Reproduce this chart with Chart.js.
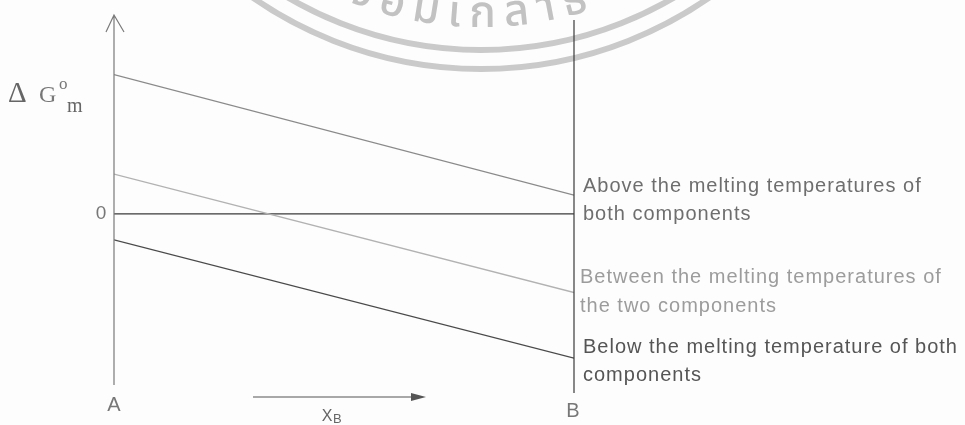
<!DOCTYPE html>
<html>
<head>
<meta charset="utf-8">
<script src="https://cdn.jsdelivr.net/npm/chart.js@4.4.1/dist/chart.umd.min.js"></script>
<style>
  html, body { margin: 0; padding: 0; background: #fff; }
  #wrap { width: 965px; height: 425px; }
</style>
</head>
<body>
<div id="wrap"><canvas id="myChart" width="965" height="425"></canvas></div>
<script>
// Mole fraction of B at the two ends of the diagram (pure A, pure B)
var xB = [0, 1];

// Standard Gibbs energy of mixing, arbitrary units, at A and at B
var aboveMelting = [14, 1.9];
var zeroLine = [0, 0];
var betweenMelting = [4, -7.9];
var belowMelting = [-2.6, -14.5];

// Captions written beside each line on the B side
var aboveText = ['Above the melting temperatures of', 'both components'];
var betweenText = ['Between the melting temperatures of', 'the two components'];
var belowText = ['Below the melting temperature of both', 'components'];

var endLabels = ['A', 'B'];
var stampText = 'จอมเกล้าธ';

function toPoints(values) {
  return xB.map(function (x, i) { return { x: x, y: values[i] }; });
}

function label(ctx, text, x, y, font, color, align, baseline, spacing) {
  ctx.save();
  ctx.font = font;
  ctx.fillStyle = color;
  ctx.textAlign = align || 'left';
  ctx.textBaseline = baseline || 'middle';
  ctx.letterSpacing = spacing || '0px';
  ctx.fillText(text, x, y);
  ctx.restore();
}

// text running along the bottom of a circle, tops facing the centre
function arcText(ctx, text, cx, cy, r, midX) {
  var seg = new Intl.Segmenter('th', { granularity: 'grapheme' });
  var parts = Array.from(seg.segment(text), function (s) { return s.segment; });
  var widths = parts.map(function (p) { return ctx.measureText(p).width + 9; });
  var total = widths.reduce(function (a, b) { return a + b; }, 0);
  var mid = Math.acos((midX - cx) / r);
  var acc = 0;
  parts.forEach(function (p, i) {
    var a = mid + (total / 2 - acc - widths[i] / 2) / r;
    ctx.save();
    ctx.translate(cx + r * Math.cos(a), cy + r * Math.sin(a));
    ctx.rotate(a - Math.PI / 2);
    ctx.fillText(p, 0, 0);
    ctx.restore();
    acc += widths[i];
  });
}

var diagram = {
  id: 'diagram',
  beforeDraw: function (chart) {
    var ctx = chart.ctx;
    ctx.save();
    ctx.fillStyle = '#fdfdfd';
    ctx.fillRect(0, 0, chart.width, chart.height);
    ctx.restore();
  },
  beforeDatasetsDraw: function (chart) {
    // faint stamp in the background
    var ctx = chart.ctx;
    ctx.save();
    ctx.strokeStyle = '#cacaca';
    ctx.lineWidth = 6;
    [400, 381].forEach(function (r) {
      ctx.beginPath();
      ctx.arc(481, -331, r, 0, Math.PI);
      ctx.stroke();
    });
    ctx.fillStyle = '#c2c2c2';
    ctx.font = '500 44px "Noto Sans Thai", "Noto Sans", sans-serif';
    ctx.textAlign = 'center';
    ctx.textBaseline = 'alphabetic';
    arcText(ctx, stampText, 481, -331, 358, 467);
    ctx.restore();
  },
  afterDatasetsDraw: function (chart) {
    var ctx = chart.ctx;
    var area = chart.chartArea;
    var xs = chart.scales.x, ys = chart.scales.y;
    var xA = xs.getPixelForValue(xB[0]);
    var xBpx = xs.getPixelForValue(xB[1]);

    ctx.save();
    // energy axis with open arrow head
    ctx.strokeStyle = '#7a7a7a';
    ctx.lineWidth = 1.2;
    ctx.beginPath();
    ctx.moveTo(xA, area.top);
    ctx.lineTo(xA, area.bottom - 8);
    ctx.moveTo(xA - 8, area.top + 17);
    ctx.lineTo(xA, area.top);
    ctx.lineTo(xA + 10, area.top + 17);
    ctx.stroke();

    // pure B side
    ctx.strokeStyle = '#3a3a3a';
    ctx.beginPath();
    ctx.moveTo(xBpx, area.top + 5);
    ctx.lineTo(xBpx, area.bottom);
    ctx.stroke();

    // composition arrow
    ctx.strokeStyle = '#555';
    ctx.fillStyle = '#555';
    ctx.beginPath();
    ctx.moveTo(253, area.bottom + 4);
    ctx.lineTo(415, area.bottom + 4);
    ctx.stroke();
    ctx.beginPath();
    ctx.moveTo(411, area.bottom);
    ctx.lineTo(426, area.bottom + 4);
    ctx.lineTo(411, area.bottom + 8);
    ctx.closePath();
    ctx.fill();
    ctx.restore();

    label(ctx, endLabels[0], xA, 405, '20px "Liberation Sans"', '#777', 'center');
    label(ctx, endLabels[1], xBpx - 1, 411, '20px "Liberation Sans"', '#777', 'center');
    label(ctx, '0', xA - 13, ys.getPixelForValue(0), '19px "Liberation Sans"', '#777', 'center');
    label(ctx, 'X', 327, 421, '16px "Liberation Sans"', '#666', 'center', 'alphabetic');
    label(ctx, 'B', 333, 423, '13px "Liberation Sans"', '#666', 'left', 'alphabetic');

    // ΔG°m
    label(ctx, 'Δ', 8, 102, '29px "Liberation Serif"', '#666', 'left', 'alphabetic');
    label(ctx, 'G', 39, 102, '24px "Liberation Serif"', '#777', 'left', 'alphabetic');
    label(ctx, 'o', 59, 89, '17px "Liberation Serif"', '#777', 'left', 'alphabetic');
    label(ctx, 'm', 67, 112, '20px "Liberation Serif"', '#666', 'left', 'alphabetic');

    var tx = xBpx + 9;
    var font = '20px "Liberation Sans"';
    var sp = '1px';
    var yAbove = ys.getPixelForValue(aboveMelting[1]);
    var yBetween = ys.getPixelForValue(betweenMelting[1]);
    var yBelow = ys.getPixelForValue(belowMelting[1]);
    label(ctx, aboveText[0], tx, yAbove - 9, font, '#6e6e6e', 'left', 'middle', sp);
    label(ctx, aboveText[1], tx, yAbove + 19, font, '#6e6e6e', 'left', 'middle', sp);
    label(ctx, betweenText[0], tx - 3, yBetween - 15, font, '#9c9c9c', 'left', 'middle', sp);
    label(ctx, betweenText[1], tx - 3, yBetween + 14, font, '#9c9c9c', 'left', 'middle', sp);
    label(ctx, belowText[0], tx, yBelow - 11, font, '#555', 'left', 'middle', sp);
    label(ctx, belowText[1], tx, yBelow + 17, font, '#555', 'left', 'middle', sp);
  }
};

function series(name, values, color) {
  return {
    label: name,
    data: toPoints(values),
    borderColor: color,
    borderWidth: 1.3,
    pointRadius: 0,
    tension: 0,
    fill: false
  };
}

var ctx = document.getElementById('myChart').getContext('2d');

var myChart = new Chart(ctx, {
  type: 'line',
  data: {
    datasets: [
      series('Between the melting temperatures', betweenMelting, '#b2b2b2'),
      series('Above the melting temperatures', aboveMelting, '#8a8a8a'),
      series('Zero', zeroLine, '#3a3a3a'),
      series('Below the melting temperature', belowMelting, '#4a4a4a')
    ]
  },
  options: {
    responsive: false,
    animation: false,
    layout: { padding: { left: 114, right: 391, top: 15, bottom: 32 } },
    scales: {
      x: { type: 'linear', min: 0, max: 1, display: false },
      y: { min: -18, max: 20, display: false }
    },
    plugins: {
      legend: { display: false },
      tooltip: { enabled: false }
    }
  },
  plugins: [diagram]
});
</script>
</body>
</html>
